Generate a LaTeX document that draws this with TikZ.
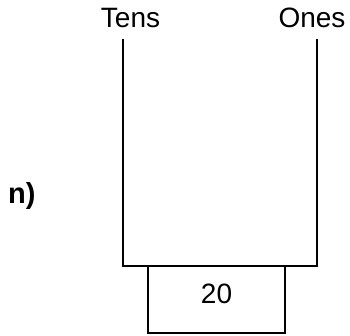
\documentclass[tikz,border=0pt]{standalone}
\usepackage{fontspec}
\setmainfont{Liberation Sans}
\begin{document}
\begin{tikzpicture}[x=1pt,y=-1pt,
  lbl/.style={font=\fontsize{28}{32}\selectfont, inner sep=0pt, anchor=base},
  valbox/.style={draw, line width=1.2pt, minimum width=137pt, minimum height=67pt, inner sep=0pt, text depth=11pt, font=\fontsize{28}{32}\selectfont},
  frame/.style={line width=1.2pt}]
\useasboundingbox (0,0) rectangle (350,336);
\node[lbl] (tens) at (130.5,28) {Tens};
\node[lbl] (ones) at (312,28) {Ones};
\node[lbl, anchor=base west, font=\fontsize{29}{32}\selectfont\bfseries] (n) at (8,204) {n)};
\coordinate (tl) at (123,39);
\coordinate (bl) at (123,266);
\coordinate (br) at (317,266);
\coordinate (tr) at (317,39);
\node[valbox] (box) at (216.5,299.5) {20};
\draw[frame] (tl) -- (bl) -- (br) -- (tr);
\end{tikzpicture}
\end{document}
